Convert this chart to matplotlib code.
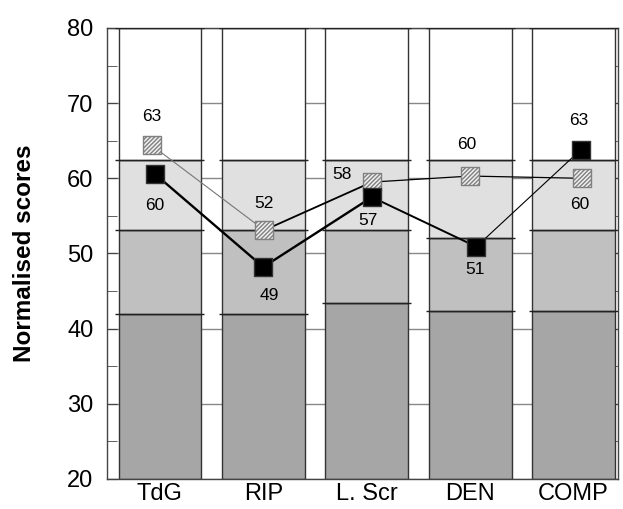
import matplotlib.pyplot as plt
import numpy as np
from matplotlib.ticker import MultipleLocator

plt.rcParams['font.family'] = ['Liberation Sans', 'DejaVu Sans']

tests = ['TdG', 'RIP', 'L. Scr', 'DEN', 'COMP']

# band tops (normalised score) for each column
dark_top = [42.0, 42.0, 43.4, 42.3, 42.3]
mid_top = [53.1, 53.1, 53.1, 52.0, 53.1]
light_top = [62.5, 62.5, 62.5, 62.5, 62.5]
white_top = [80, 80, 80, 80, 80]

# the two subjects
hatched_vals = [64.4, 53.1, 59.5, 60.3, 60.0]
hatched_lbls = ['63', '52', '58', '60', '60']
black_vals = [60.6, 48.2, 57.5, 50.9, 63.8]
black_lbls = ['60', '49', '57', '51', '63']

# styling bits
nudge_h = [-0.08, 0.01, 0.05, 0.0, 0.08]
nudge_b = [-0.05, 0.0, 0.05, 0.06, 0.07]
lw_h = [0.8, 1.3, 0.9, 0.9]
col_h = ['#777777', 'black', 'black', 'black']
lw_b = [1.7, 1.7, 1.4, 0.8]
off_h = [(0, 29), (0, 27), (-30, 8), (-3, 32), (-2, -26)]
off_b = [(0, -32), (6, -28), (-4, -23), (-1, -23), (-2, 29)]

fig = plt.figure(figsize=(6.23, 5.09), dpi=100)
ax = fig.add_axes([0.172, 0.059, 0.82, 0.886])

x = np.arange(len(tests))
w = 0.80
bottom = np.full(len(tests), 20.0)
for top, c in zip([dark_top, mid_top, light_top, white_top],
                  ['#a6a6a6', '#c0c0c0', '#e0e0e0', 'white']):
    top = np.array(top)
    ax.bar(x, top - bottom, w, bottom=bottom, color=c, edgecolor='#333333',
           linewidth=1.0, zorder=2)
    ax.hlines(top, x - 0.43, x + 0.43, color='#222222', lw=1.0, zorder=3)
    bottom = top

ax.grid(axis='y', color='#888888', lw=1.0, zorder=0)
ax.set_axisbelow(True)

xh = x + np.array(nudge_h)
xb = x + np.array(nudge_b)
for i in range(len(tests) - 1):
    ax.plot(xh[i:i + 2], hatched_vals[i:i + 2], color=col_h[i], lw=lw_h[i], zorder=4)
    ax.plot(xb[i:i + 2], black_vals[i:i + 2], color='black', lw=lw_b[i], zorder=4)

ax.scatter(xh, hatched_vals, marker='s', s=165, facecolor='#f0f0f0',
           edgecolor='#808080', hatch='////////', linewidth=1.0, zorder=5)
ax.scatter(xb, black_vals, marker='s', s=165, facecolor='black',
           edgecolor='#333333', linewidth=1.0, zorder=5)

for i in range(len(tests)):
    ax.annotate(hatched_lbls[i], (xh[i], hatched_vals[i]), xytext=off_h[i],
                textcoords='offset pixels', ha='center', va='center', fontsize=12.5, zorder=6)
    ax.annotate(black_lbls[i], (xb[i], black_vals[i]), xytext=off_b[i],
                textcoords='offset pixels', ha='center', va='center', fontsize=12.5, zorder=6)

ax.set_xlim(-0.51, 4.43)
ax.set_ylim(20, 80)
ax.set_xticks(x)
ax.set_xticklabels(tests, fontsize=17)
ax.tick_params(axis='x', length=0, pad=3)
ax.yaxis.set_major_locator(MultipleLocator(10))
ax.yaxis.set_minor_locator(MultipleLocator(5))
ax.tick_params(axis='y', which='both', direction='in', left=True, right=True,
               length=7, color='#444444', labelsize=17, pad=10)
for s in ax.spines.values():
    s.set_color('#444444')
    s.set_linewidth(1.0)
ax.set_ylabel('Normalised scores', fontsize=17.5, fontweight='bold', labelpad=22)

fig.savefig('out.png', dpi=100)
